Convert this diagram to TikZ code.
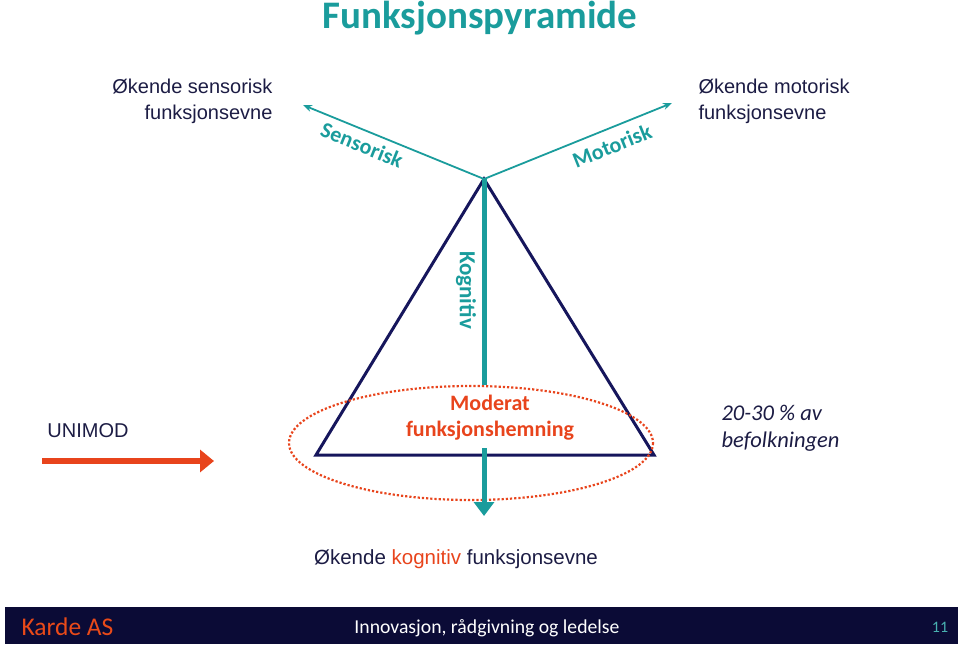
\documentclass[tikz,border=0pt]{standalone}
\usepackage{fontspec}
\setmainfont{Carlito}
\newfontfamily\arialfont{Liberation Sans}
\usetikzlibrary{arrows.meta,positioning}
\definecolor{tealfp}{HTML}{1A9C9C}
\definecolor{redfp}{HTML}{E8441C}
\definecolor{navyfp}{HTML}{16165C}
\definecolor{inkfp}{HTML}{1C1C44}
\definecolor{barfp}{HTML}{0B0B36}
\tikzset{
  axislabel/.style={text=tealfp, font=\fontsize{22}{24}\selectfont\bfseries},
  sidetext/.style={text=inkfp, font=\arialfont\fontsize{20}{26}\selectfont, align=#1},
  axisarrow/.style={tealfp, line width=1.8pt, -{Stealth[length=9pt,width=7pt]}},
}
\begin{document}
\begin{tikzpicture}[x=1pt,y=-1pt]
\useasboundingbox (0,0) rectangle (960,645);
% Tittel
\node[text=tealfp, font=\fontsize{39}{42}\selectfont\bfseries] (title) at (480,18) {Funksjonspyramide};
% Pyramide
\coordinate (apex) at (484,179);
\coordinate (bl) at (316,455);
\coordinate (br) at (654,455);
\draw[navyfp, line width=3pt, line join=miter] (apex) -- (bl) -- (br) -- cycle;
% Akser
\coordinate (sens) at (303,105);
\coordinate (mot) at (672,103);
\draw[axisarrow] (apex) -- (sens);
\draw[axisarrow] (apex) -- (mot);
\node[axislabel, rotate=-22] (senslab) at (362,145) {Sensorisk};
\node[axislabel, rotate=22] (motlab) at (612,146) {Motorisk};
\coordinate (kogend) at (484,385);
\draw[tealfp, line width=5pt] (apex) -- (kogend);
\node[axislabel, font=\fontsize{23}{24}\selectfont\bfseries, rotate=-90] (koglab) at (466,290) {Kognitiv};
% Moderat
\node[text=redfp, font=\fontsize{22}{26}\selectfont\bfseries, align=center] (moderat) at (490,418) {Moderat\\funksjonshemning};
\draw[redfp, line width=2.2pt, dotted] (471,443) ellipse (182 and 57);
\coordinate (kogtip) at (484,516);
\draw[tealfp, line width=5pt, -{Triangle[length=14pt,width=20pt]}] (484,448) -- (kogtip);
% Venstre og hoyre
\node[sidetext=center] (unimod) at (88,431) {UNIMOD};
\coordinate (ua) at (42,461);
\coordinate (ub) at (214,461);
\draw[redfp, line width=6pt, -{Triangle[length=14pt,width=22pt]}] (ua) -- (ub);
\node[text=inkfp, font=\fontsize{22.5}{27}\selectfont\itshape, align=left, anchor=west] (andel) at (718,428) {20-30 \% av\\befolkningen};
\node[sidetext=right, anchor=east] (sensfe) at (276,101) {Økende sensorisk\\funksjonsevne};
\node[sidetext=left, anchor=west] (motfe) at (695,101) {Økende motorisk\\funksjonsevne};
\node[sidetext=center, font=\arialfont\fontsize{20.5}{26}\selectfont] (kogfe) at (456,559) {Økende \textcolor{redfp}{kognitiv} funksjonsevne};
% Bunnlinje
\fill[barfp] (5,607) rectangle (958,644);
\node[text=redfp!90!orange, font=\fontsize{25.5}{28}\selectfont, anchor=west] (karde) at (18,627) {Karde AS};
\node[text=white, font=\fontsize{19.7}{22}\selectfont] (slogan) at (487,628) {Innovasjon, rådgivning og ledelse};
\node[text=tealfp!80!white, font=\fontsize{16}{18}\selectfont] (side) at (940,627) {11};
\end{tikzpicture}
\end{document}
